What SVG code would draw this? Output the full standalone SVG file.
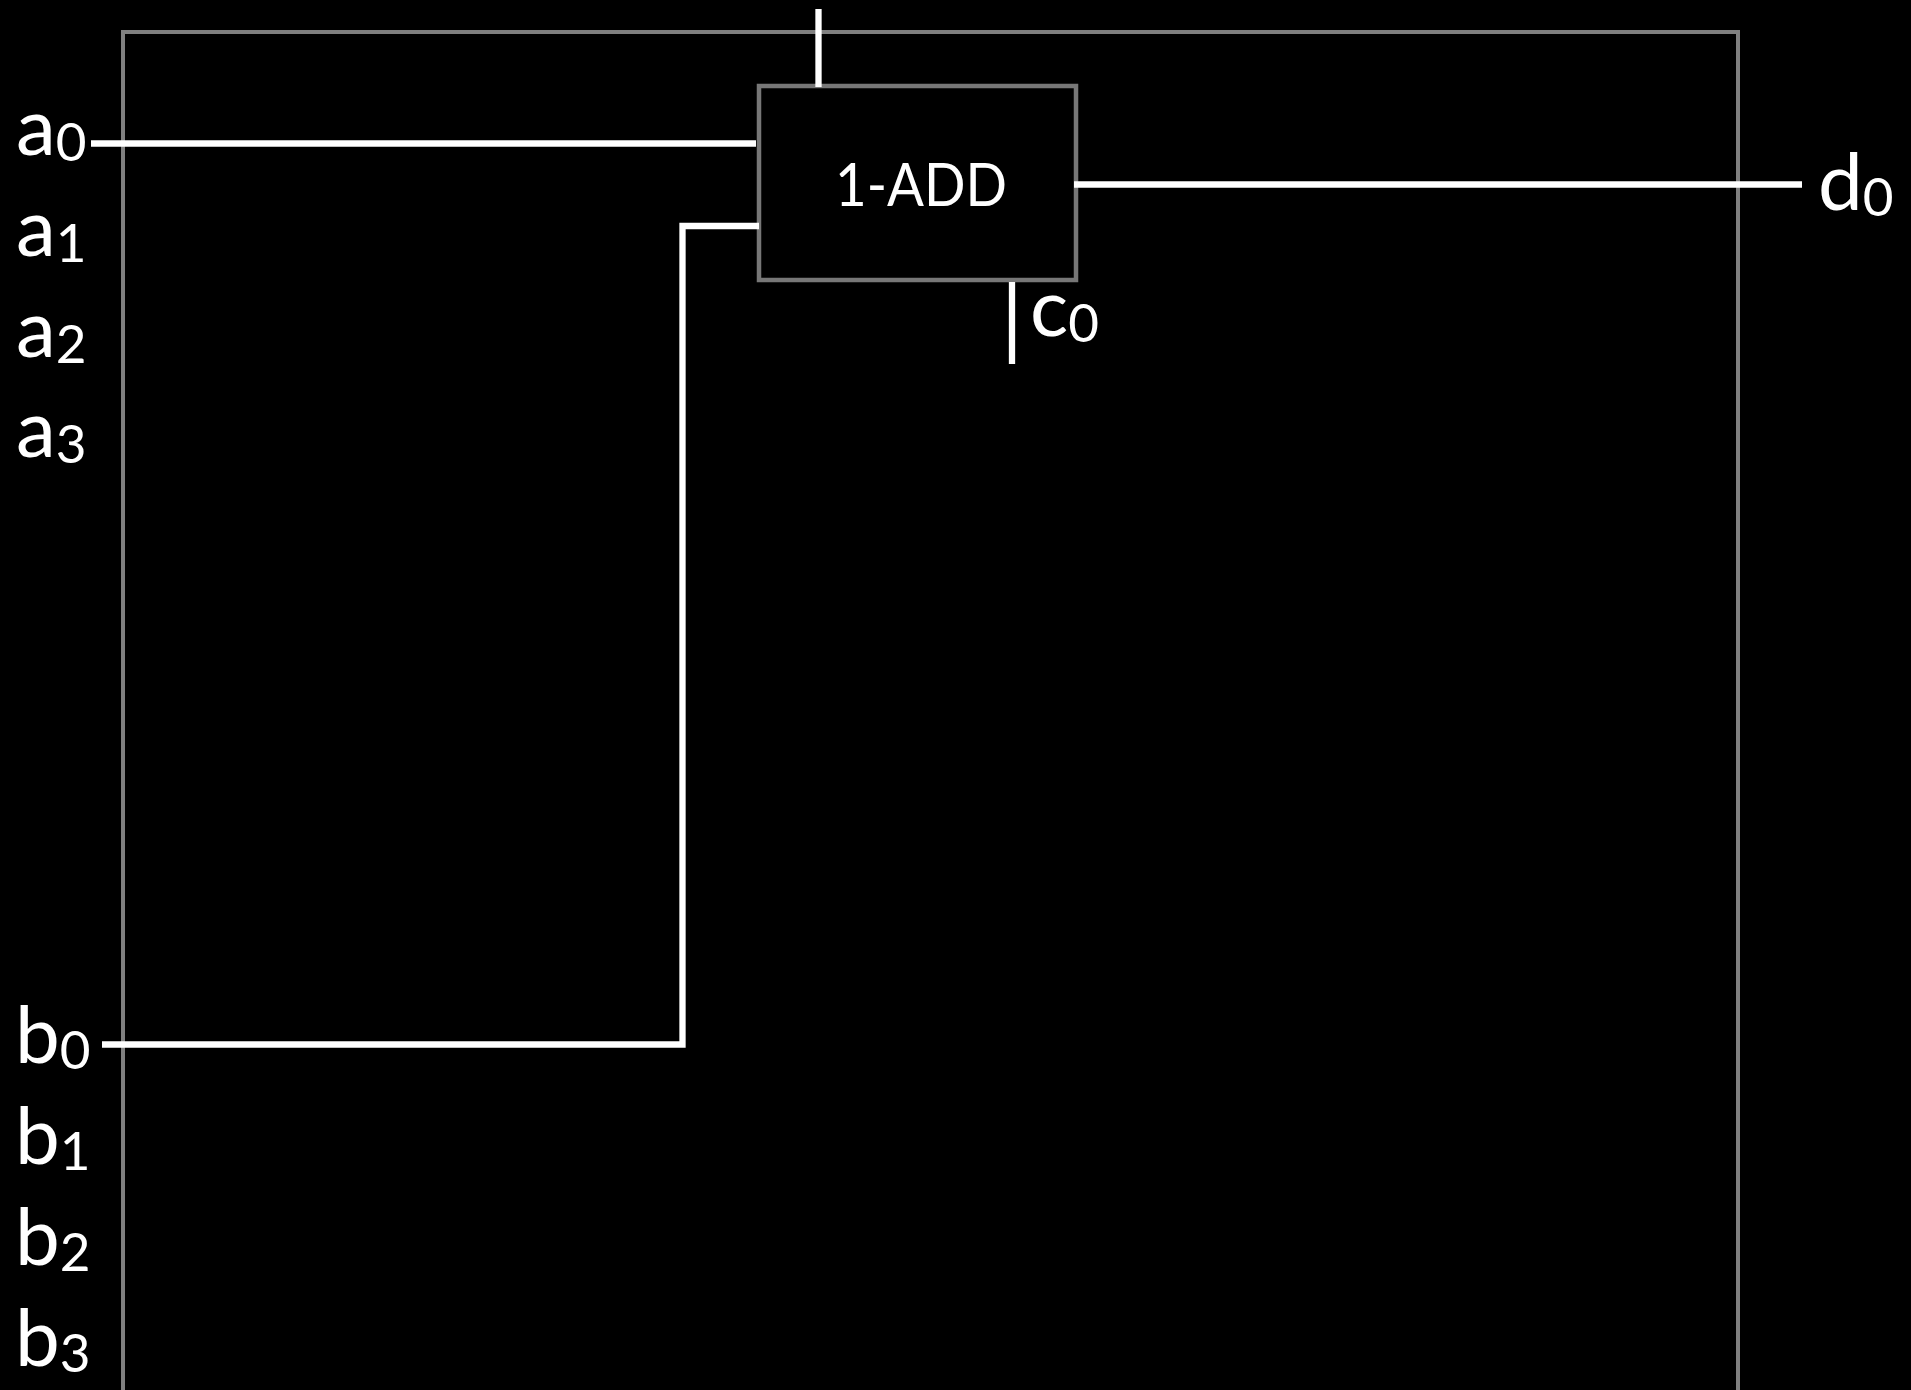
<svg xmlns="http://www.w3.org/2000/svg" width="1911" height="1390" viewBox="0 0 1911 1390">
<style>
.t{font-family:"Lato","Open Sans",sans-serif;fill:#fff;font-size:80px}
.s{font-size:53px}
.box{fill:none;stroke:#808080;stroke-width:4}
.inner{stroke:#777;stroke-width:4.500}
.w{fill:none;stroke:#fff;stroke-width:6.300}
.label{font-size:60px}
</style>
<rect width="1911" height="1390" fill="#000"/>
<g id="frame"><path class="box" d="M123 1392V32H1738V1392"/></g>
<g id="adder"><rect class="box inner" x="759" y="86" width="317" height="194"/>
<text class="t label" x="835" y="206" textLength="172" lengthAdjust="spacingAndGlyphs">1-ADD</text></g>
<g id="connectors">
<path class="w" d="M91 143.500H756"/>
<path class="w" d="M102 1044.500H682.500V226H759"/>
<path class="w" d="M1074 184.500H1802"/>
<path class="w" d="M818.500 9V87"/>
<path class="w" d="M1012 282V364"/>
</g>
<g id="a0"><text class="t" x="16" y="155">a<tspan class="s" dy="6">0</tspan></text></g>
<g id="a1"><text class="t" x="16" y="256">a<tspan class="s" dy="6">1</tspan></text></g>
<g id="a2"><text class="t" x="16" y="357">a<tspan class="s" dy="6">2</tspan></text></g>
<g id="a3"><text class="t" x="16" y="457">a<tspan class="s" dy="6">3</tspan></text></g>
<g id="b0"><text class="t" x="15" y="1063">b<tspan class="s" dy="6">0</tspan></text></g>
<g id="b1"><text class="t" x="15" y="1164">b<tspan class="s" dy="6">1</tspan></text></g>
<g id="b2"><text class="t" x="15" y="1265">b<tspan class="s" dy="6">2</tspan></text></g>
<g id="b3"><text class="t" x="15" y="1366">b<tspan class="s" dy="6">3</tspan></text></g>
<g id="c0"><text class="t" x="1030" y="336">c<tspan class="s" dy="6">0</tspan></text></g>
<g id="d0"><text class="t" x="1818" y="210">d<tspan class="s" dy="6">0</tspan></text></g>
</svg>
